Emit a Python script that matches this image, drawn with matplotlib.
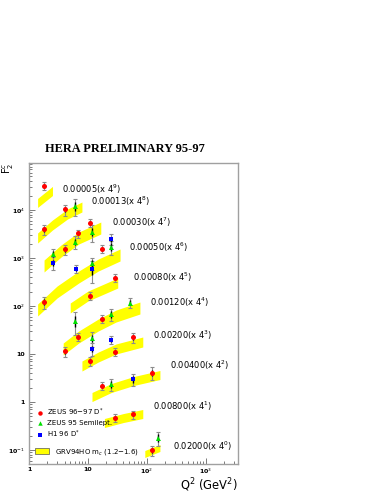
import matplotlib
matplotlib.use("Agg")
import matplotlib.pyplot as plt
from matplotlib.lines import Line2D
from matplotlib.patches import Patch

# ZEUS 96-97 D* (red circles)
zeus97_q2 = [1.8, 1.8, 4.0, 4.0, 6.8, 10.8, 1.8, 17.4, 10.8, 28.7, 4.0,
             6.8, 17.4, 10.8, 28.7, 57, 17.4, 120, 28.7, 57, 120]
zeus97_f2 = [32000, 4000, 10300, 1520, 3270, 5430, 121, 1540, 164, 392, 11.5,
             22.9, 53.6, 7.15, 11.0, 22.3, 2.15, 4.07, 0.471, 0.554, 0.100]
zeus97_err = [5800, 950, 2700, 360, 620, 1030, 35, 290, 31, 75, 2.8,
              4.4, 10, 1.4, 2.1, 5.3, 0.41, 1.2, 0.09, 0.105, 0.024]

# ZEUS 95 semileptonic (green triangles)
zeus95_q2 = [6.0, 2.55, 6.0, 11.8, 11.8, 24.3, 6.0, 24.3, 51.6, 11.8, 24.3, 156]
zeus95_f2 = [12100, 1210, 2190, 3530, 776, 1720, 49.4, 67.2, 117, 21.2, 2.34, 0.18]
zeus95_err = [4700, 350, 640, 1380, 225, 580, 24, 19.5, 28, 7.2, 0.68, 0.061]

# H1 96 D* (blue squares)
h1_q2 = [2.55, 6.3, 11.8, 24.3, 11.8, 24.3, 57]
h1_f2 = [798, 590, 590, 2490, 13.0, 19.6, 2.97]
h1_err = [230, 112, 295, 600, 3.8, 3.7, 0.86]

# GRV94HO bands, one per x bin
band_q2 = [
    [1.4, 2.5],
    [1.4, 2.5, 4.5, 7.9],
    [1.8, 3.5, 7.0, 16.5],
    [1.4, 3.0, 7.0, 15.0, 35.0],
    [5.0, 10.0, 32.0],
    [3.8, 7.0, 15.0, 30.0, 76.0],
    [7.9, 15.0, 30.0, 85.0],
    [11.7, 25.0, 60.0, 166.0],
    [19.0, 40.0, 85.0],
    [92.0, 166.0],
]
band_lo = [
    [11300, 20000],
    [2050, 3830, 6490, 9090],
    [511, 1050, 1960, 3160],
    [61.9, 147, 302, 536, 866],
    [71.5, 127, 237],
    [9.53, 16.95, 30.2, 46.4, 68.1],
    [4.42, 6.81, 10.0, 14.0],
    [1.02, 1.58, 2.21, 2.94],
    [0.294, 0.374, 0.453],
    [0.0698, 0.0931],
]
band_hi = [
    [17400, 31000],
    [3320, 6190, 10490, 14680],
    [908, 1870, 3480, 5620],
    [110, 261, 536, 953, 1540],
    [115.5, 205, 383],
    [16.95, 30.2, 53.6, 82.5, 121],
    [7.15, 11.0, 16.2, 22.6],
    [1.58, 2.43, 3.40, 4.53],
    [0.453, 0.575, 0.698],
    [0.0976, 0.130],
]

bin_labels = ["0.00005(x 4$^{9}$)", "0.00013(x 4$^{8}$)", "0.00030(x 4$^{7}$)",
              "0.00050(x 4$^{6}$)", "0.00080(x 4$^{5}$)", "0.00120(x 4$^{4}$)",
              "0.00200(x 4$^{3}$)", "0.00400(x 4$^{2}$)", "0.00800(x 4$^{1}$)",
              "0.02000(x 4$^{0}$)"]
# label anchors in axes fraction
label_pos = [(0.158, 0.912), (0.299, 0.872), (0.399, 0.802), (0.480, 0.720),
             (0.499, 0.620), (0.579, 0.536), (0.595, 0.429), (0.675, 0.327),
             (0.595, 0.193), (0.689, 0.060)]

x_ticks = [1, 10, 100, 1000]
x_ticklabels = ["1", "10", "10$^{2}$", "10$^{3}$"]
y_ticks = [0.1, 1, 10, 100, 1000, 10000]
y_ticklabels = ["10$^{-1}$", "1", "10", "10$^{2}$", "10$^{3}$", "10$^{4}$"]

W, H = 382, 494
fig = plt.figure(figsize=(W / 100, H / 100), dpi=100)
ax = fig.add_axes([29 / W, 1 - 464 / H, 209 / W, 301 / H])
ax.set_xscale("log")
ax.set_yscale("log")
ax.set_xlim(1, 3500)
ax.set_ylim(0.0511, 95300)

band_color = "#ffff00"
for q, lo, hi in zip(band_q2, band_lo, band_hi):
    ax.fill_between(q, lo, hi, color=band_color, linewidth=0, zorder=1)


def draw_points(q2, f2, err, color, marker, ms):
    ax.errorbar(q2, f2, yerr=err, fmt="none", ecolor="#8c8c8c",
                elinewidth=0.8, capsize=1.6, capthick=0.8, zorder=2)
    inner = [e * 0.5 for e in err]
    ax.errorbar(q2, f2, yerr=inner, fmt="none", ecolor="black",
                elinewidth=1.0, capsize=0, zorder=3)
    ax.plot(q2, f2, linestyle="none", marker=marker, color=color,
            markersize=ms, markeredgewidth=0, zorder=4)


draw_points(zeus97_q2, zeus97_f2, zeus97_err, "#ff0000", "o", 3.6)
draw_points(zeus95_q2, zeus95_f2, zeus95_err, "#00e000", "^", 3.6)
draw_points(h1_q2, h1_f2, h1_err, "#0000ff", "s", 3.4)

for text, (lx, ly) in zip(bin_labels, label_pos):
    ax.text(lx, ly, text, transform=ax.transAxes, fontsize=6.0,
            family="DejaVu Sans", ha="left", va="center")

for side in ["left", "right", "top", "bottom"]:
    ax.spines[side].set_color("#a0a0a0")
    ax.spines[side].set_linewidth(1.0)
ax.tick_params(which="both", direction="in", top=False, right=False,
               color="#666666", width=0.6)
ax.tick_params(which="major", length=4, labelsize=4.5, pad=3)
ax.tick_params(axis="x", which="major", pad=2)
ax.tick_params(which="minor", length=2)
ax.set_xticks(x_ticks)
ax.set_xticklabels(x_ticklabels, fontweight="bold")
ax.set_yticks(y_ticks)
ax.set_yticklabels(y_ticklabels, fontweight="bold")

point_handles = [
    Line2D([], [], linestyle="none", marker="o", color="#ff0000", markersize=3.2,
           markeredgewidth=0, label="ZEUS 96$-$97 D$^{*}$"),
    Line2D([], [], linestyle="none", marker="^", color="#00e000", markersize=3.2,
           markeredgewidth=0, label="ZEUS 95 Semilept."),
    Line2D([], [], linestyle="none", marker="s", color="#0000ff", markersize=3.0,
           markeredgewidth=0, label="H1 96 D$^{*}$"),
]
leg1 = ax.legend(handles=point_handles, loc="upper left",
                 bbox_to_anchor=(0.025, 0.2), frameon=False, fontsize=5,
                 handlelength=1.0, handletextpad=0.5, labelspacing=0.35,
                 borderaxespad=0)
ax.add_artist(leg1)
band_handle = [Patch(facecolor=band_color, edgecolor="#555555", linewidth=0.5,
                     label="GRV94HO m$_{c}$ (1.2$-$1.6)")]
ax.legend(handles=band_handle, loc="lower left", bbox_to_anchor=(0.015, 0.015),
          frameon=False, fontsize=5, handlelength=2.0, handleheight=0.9,
          handletextpad=0.9, borderaxespad=0)

fig.text(45 / W, 1 - 149 / H, "HERA PRELIMINARY 95-97", family="Liberation Serif",
         fontweight="bold", fontsize=8.9, ha="left", va="center")
fig.text(8 / W, 1 - 168 / H, "F$_{2}^{c}$", rotation=90, fontsize=7,
         ha="center", va="center")
fig.text(238 / W, 1 - 485 / H, "Q$^{2}$ (GeV$^{2}$)", fontsize=8.3,
         ha="right", va="center")

fig.savefig("out.png", dpi=100)
